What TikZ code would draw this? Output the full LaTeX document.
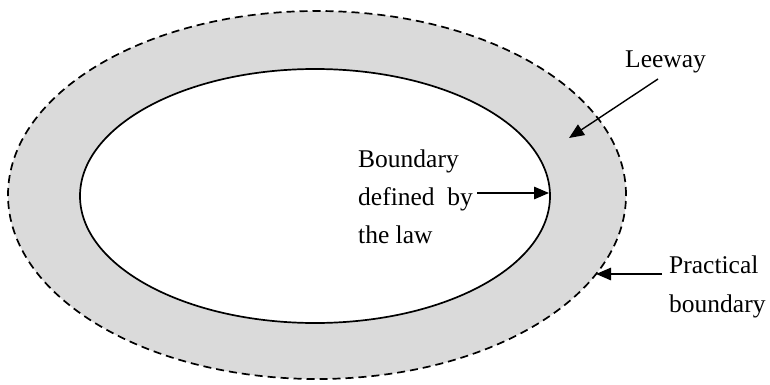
\documentclass[tikz,border=0pt]{standalone}
\usepackage{fontspec}
\setmainfont{Liberation Serif}
\usetikzlibrary{arrows.meta,calc}
\definecolor{leewaygray}{RGB}{218,218,218}
\begin{document}
\begin{tikzpicture}[x=1pt,y=-1pt,
  labeltext/.style={inner sep=0pt, anchor=base west, font=\fontsize{25.5pt}{38pt}\selectfont},
  pointer/.style={line width=1.4pt, -{Triangle[length=15pt,width=12.5pt]}},
  outline/.style={line width=1.7pt},
]
\useasboundingbox (0,0) rectangle (770,385);

% leeway band between the practical and the legal boundary
\fill[leewaygray] (317,195) ellipse [x radius=309pt, y radius=184pt];
\draw[outline, dash pattern=on 8pt off 5pt] (317,195) ellipse [x radius=309pt, y radius=184pt];
\filldraw[outline, fill=white] (315,196) ellipse [x radius=235pt, y radius=127pt];

% points on the boundaries that the arrows meet
\coordinate (lawedge) at (549,193);
\coordinate (bandpoint) at (569,138);
\coordinate (practicaledge) at (596,274);

% labels
\node[labeltext] (lawA) at (358,167) {Boundary};
\node[labeltext] (lawB) at (358,205) {defined\ \ by};
\node[labeltext] (lawC) at (358,243) {the law};
\node[labeltext] (leeway) at (625,68) {Leeway};
\node[labeltext] (practA) at (669,273) {Practical};
\node[labeltext] (practB) at (669,312) {boundary};

% arrows
\draw[pointer] ($(lawB.base east)+(4,-12)$) -- (lawedge);
\draw[pointer] ($(leeway.base west)+(33,11)$) -- (bandpoint);
\draw[pointer] ($(practA.base west)+(-7,1)$) -- (practicaledge);
\end{tikzpicture}
\end{document}
